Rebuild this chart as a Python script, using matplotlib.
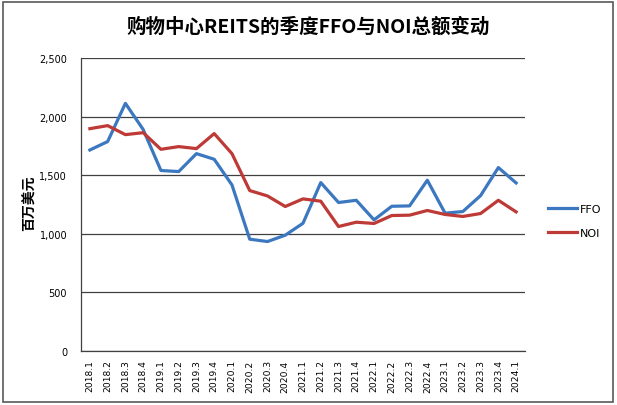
import matplotlib
matplotlib.use("Agg")
import matplotlib.pyplot as plt
from matplotlib.patches import Rectangle

plt.rcParams['font.family'] = ['Noto Sans CJK SC', 'DejaVu Sans']

quarters = ["2018.1", "2018.2", "2018.3", "2018.4",
            "2019.1", "2019.2", "2019.3", "2019.4",
            "2020.1", "2020.2", "2020.3", "2020.4",
            "2021.1", "2021.2", "2021.3", "2021.4",
            "2022.1", "2022.2", "2022.3", "2022.4",
            "2023.1", "2023.2", "2023.3", "2023.4", "2024.1"]
ffo = [1715, 1787, 2113, 1890, 1540, 1531, 1684, 1636,
       1417, 954, 934, 988, 1090, 1437, 1267, 1286,
       1119, 1235, 1238, 1457, 1176, 1190, 1326, 1565, 1434]
noi = [1897, 1923, 1846, 1863, 1721, 1744, 1727, 1855,
       1684, 1369, 1323, 1233, 1298, 1278, 1062, 1099,
       1088, 1156, 1159, 1199, 1165, 1148, 1173, 1286, 1187]
yticks = [0, 500, 1000, 1500, 2000, 2500]
ytick_labels = ["0", "500", "1,000", "1,500", "2,000", "2,500"]

W, H = 617, 406
fig = plt.figure(figsize=(W/100, H/100), dpi=100)

# outer frame
fig.patches.append(Rectangle((3/W, 3/H), (W-7)/W, (H-6)/H, transform=fig.transFigure,
                             fill=False, edgecolor='#595959', linewidth=1.2))

left, right, top, bottom = 81, 525, 59, 352
ax = fig.add_axes([left/W, 1-bottom/H, (right-left)/W, (bottom-top)/H])

x = list(range(len(quarters)))
l1, = ax.plot(x, ffo, color='#3C78C0', linewidth=2.3, label='FFO', solid_joinstyle='round')
l2, = ax.plot(x, noi, color='#BE3A36', linewidth=2.3, label='NOI', solid_joinstyle='round')

ax.set_xlim(-0.5, len(quarters)-0.5)
ax.set_ylim(0, 2500)
ax.set_yticks(yticks)
ax.set_yticklabels(ytick_labels, fontsize=7, family=['DejaVu Sans'])
ax.set_xticks(x)
ax.set_xticklabels(quarters, rotation=90, fontsize=6.6, family=['DejaVu Sans'])
ax.yaxis.grid(True, color='#404040', linewidth=0.9)
ax.set_axisbelow(True)
for s in ['top', 'right']:
    ax.spines[s].set_visible(False)
for s in ['left', 'bottom']:
    ax.spines[s].set_color('#404040')
    ax.spines[s].set_linewidth(0.9)
ax.tick_params(axis='y', length=0, pad=10)
ax.tick_params(axis='x', length=0, pad=6)

ax.set_ylabel('百万美元', fontsize=10, fontweight='bold')
ax.yaxis.set_label_coords((30 - left)/(right-left), (bottom-203)/(bottom-top))
ax.yaxis.label.set_va('center')

fig.text(308/W, 1-27/H, '购物中心REITS的季度FFO与NOI总额变动', ha='center', va='center',
         fontsize=14, fontweight='bold')

fig.legend(handles=[l1, l2], loc='center left', bbox_to_anchor=(538/W, 1-222/H),
           frameon=False, handlelength=2.6, handletextpad=0.3, labelspacing=1.2,
           prop={'family': ['DejaVu Sans'], 'size': 8})

fig.savefig('out.png', dpi=100)
